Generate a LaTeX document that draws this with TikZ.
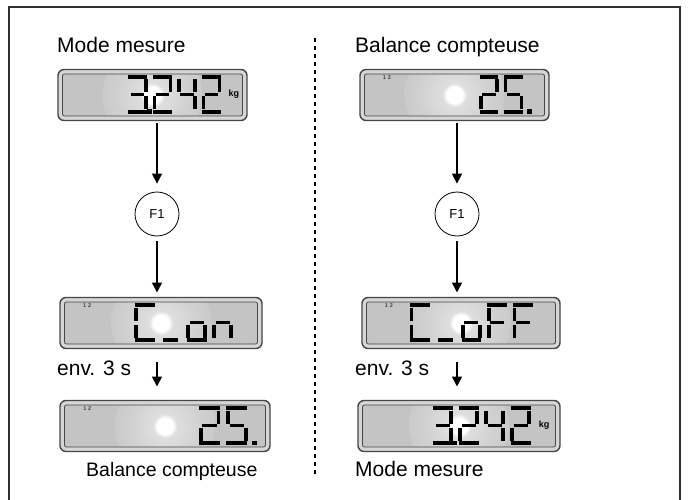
\documentclass[tikz,border=0pt]{standalone}
\usepackage{fontspec}
\setmainfont{Liberation Sans}
\usetikzlibrary{arrows.meta}

\definecolor{lcdgray}{HTML}{C4C4C4}
\definecolor{lcdband}{HTML}{D6D6D6}
\definecolor{lcdedge}{HTML}{474747}
\definecolor{framegray}{HTML}{303030}
\colorlet{lcdring}{white!45!lcdgray}
\colorlet{lcdring2}{white!20!lcdgray}
\pgfdeclareradialshading{lcdglow}{\pgfpointorigin}{color(0bp)=(white); color(4bp)=(white); color(6bp)=(lcdring); color(18bp)=(lcdring2); color(34bp)=(lcdgray); color(50bp)=(lcdgray)}

% seven-segment geometry: width 17, height 35, y downwards
\def\segA{-1.5/0/18.5/0}
\def\segB{17/2.5/17/15.5}
\def\segC{17/19.5/17/32.5}
\def\segD{-1.5/35/18.5/35}
\def\segE{0/19.5/0/32.5}
\def\segF{0/2.5/0/15.5}
\def\segG{1.5/17.5/15.5/17.5}
\def\segU{1/35/16/35}
\edef\chTwo{\segA,\segB,\segG,\segE,\segD}
\edef\chThree{\segA,\segB,\segC,\segD,\segG}
\edef\chFour{\segF,\segG,\segB,\segC}
\edef\chFive{\segA,\segF,\segG,\segC,\segD}
\edef\chC{\segA,\segF,\segE,\segD}
\edef\chUnder{\segU}
\edef\chO{\segG,\segC,\segD,\segE}
\edef\chN{\segE,\segG,\segC}
\edef\chF{\segA,\segF,\segG,\segE}

% one LCD character, origin (#1,#2) relative to the current scope
\newcommand\lcdchar[3]{%
  \foreach \xa/\ya/\xb/\yb in #3 {\draw[lcdseg] ({#1+\xa},{#2+\ya}) -- ({#1+\xb},{#2+\yb});}}
\newcommand\lcdpoint[2]{\fill ({#1},{#2+2}) rectangle ({#1+4.5},{#2-2.5});}

\tikzset{
  lcdseg/.style={line width=3.7pt, line cap=butt, black},
  lcd/.style={rectangle, rounded corners=6pt, draw=lcdedge, line width=1.4pt,
    fill=lcdband, minimum width=#1, minimum height=51pt, inner sep=0pt, outer sep=0pt,
    path picture={
      \begin{scope}
        \clip[rounded corners=2pt] ([shift={(4.5pt,-4.5pt)}]path picture bounding box.north west)
          rectangle ([shift={(-4.5pt,4.5pt)}]path picture bounding box.south east);
        \fill[lcdgray] (path picture bounding box.south west) rectangle (path picture bounding box.north east);
        \shade[shading=lcdglow] (path picture bounding box.center) circle (50pt);
      \end{scope}
      \draw[lcdedge, line width=0.8pt, rounded corners=2pt]
        ([shift={(4.5pt,-4.5pt)}]path picture bounding box.north west)
        rectangle ([shift={(-4.5pt,4.5pt)}]path picture bounding box.south east);
    }},
  lcd/.default=200pt,
  label/.style={anchor=base west, inner sep=0pt, font=\fontsize{21}{24}\selectfont},
  smalllabel/.style={label, font=\fontsize{19.5}{22}\selectfont},
  keybtn/.style={circle, draw, line width=0.8pt, minimum size=44pt, inner sep=0pt,
    font=\fontsize{13}{15}\selectfont},
  flow/.style={line width=1.6pt, -{Triangle[width=10pt,length=10pt]}},
  chan/.style={anchor=west, inner sep=0pt, text=black!75, font=\fontsize{5.5}{6}\selectfont\bfseries},
  unit/.style={inner sep=0pt, font=\fontsize{9}{10}\selectfont\bfseries},
}

\begin{document}
\begin{tikzpicture}[x=1pt, y=-1pt]
  \useasboundingbox (0,0) rectangle (688,500);

  % outer frame, open at the bottom
  \coordinate (fa) at (9,500);
  \coordinate (fb) at (9,7);
  \coordinate (fc) at (680,7);
  \coordinate (fd) at (680,500);
  \draw[framegray, line width=1.3pt] (fa) -- (fb) -- (fc) -- (fd);

  % column separator
  \coordinate (sepTop) at (315,38);
  \coordinate (sepBot) at (315,477);
  \draw[line width=2pt, dash pattern=on 4pt off 4pt] (sepTop) -- (sepBot);

  % ---------- left column ----------
  \node[label] (lt) at (57,53) {Mode mesure};
  \node[lcd=189pt] (d1) at (152.5,95) {};
  \begin{scope}[shift={(d1.north west)}, xscale=0.945]
    \lcdchar{76}{7.5}{\chThree}
    \lcdpoint{94.5}{42.5}
    \lcdchar{102}{7.5}{\chTwo}
    \lcdchar{128}{7.5}{\chFour}
    \lcdchar{154}{7.5}{\chTwo}
    \node[unit] (u1) at (186,25) {kg};
  \end{scope}

  \node[keybtn] (k1) at (157,214) {F1};

  \node[lcd=202pt] (d2) at (161,323) {};
  \begin{scope}[shift={(d2.north west)}]
    \node[chan] (c2) at (23,8) {1\,\,2};
    \lcdchar{76}{7.5}{\chC}
    \lcdchar{102}{7.5}{\chUnder}
    \lcdchar{128}{7.5}{\chO}
    \lcdchar{154}{7.5}{\chN}
  \end{scope}

  \node[label] (le) at (57,375) {env. 3 s};

  \node[lcd=210pt] (d3) at (165,426) {};
  \begin{scope}[shift={(d3.north west)}, xscale=1.05]
    \node[chan] (c3) at (22,8) {1\,\,2};
    \lcdchar{134}{7.5}{\chTwo}
    \lcdchar{160}{7.5}{\chFive}
    \lcdpoint{183}{42.5}
  \end{scope}
  \node[smalllabel] (lb) at (86,476) {Balance compteuse};

  \draw[flow, shorten <=3pt, shorten >=8pt] (d1.south -| k1) -- (k1);
  \draw[flow, shorten <=5pt, shorten >=5pt] (k1) -- (d2.north -| k1);
  \coordinate (w1) at (157,362);
  \draw[flow, shorten >=14pt] (w1) -- (d3.north -| w1);

  % ---------- right column ----------
  \node[label] (rt) at (355,53) {Balance compteuse};
  \node[lcd=189pt] (e1) at (454.5,95) {};
  \begin{scope}[shift={(e1.north west)}, xscale=0.945]
    \node[chan] (c4) at (24,8) {1\,\,2};
    \lcdchar{128}{7.5}{\chTwo}
    \lcdchar{154}{7.5}{\chFive}
    \lcdpoint{177}{42.5}
  \end{scope}

  \node[keybtn] (k2) at (457,214) {F1};

  \node[lcd=198pt] (e2) at (461,323) {};
  \begin{scope}[shift={(e2.north west)}, xscale=0.99]
    \node[chan] (c5) at (23,8) {1\,\,2};
    \lcdchar{50}{7.5}{\chC}
    \lcdchar{76}{7.5}{\chUnder}
    \lcdchar{102}{7.5}{\chO}
    \lcdchar{128}{7.5}{\chF}
    \lcdchar{154}{7.5}{\chF}
  \end{scope}

  \node[label] (re) at (355,375) {env. 3 s};

  \node[lcd=202pt] (e3) at (459,426) {};
  \begin{scope}[shift={(e3.north west)}]
    \lcdchar{76}{7.5}{\chThree}
    \lcdpoint{94.5}{42.5}
    \lcdchar{102}{7.5}{\chTwo}
    \lcdchar{128}{7.5}{\chFour}
    \lcdchar{154}{7.5}{\chTwo}
    \node[unit] (u2) at (186,25) {kg};
  \end{scope}
  \node[label] (rb) at (355,476) {Mode mesure};

  \draw[flow, shorten <=3pt, shorten >=8pt] (e1.south -| k2) -- (k2);
  \draw[flow, shorten <=5pt, shorten >=5pt] (k2) -- (e2.north -| k2);
  \coordinate (w2) at (457,362);
  \draw[flow, shorten >=14pt] (w2) -- (e3.north -| w2);
\end{tikzpicture}
\end{document}
